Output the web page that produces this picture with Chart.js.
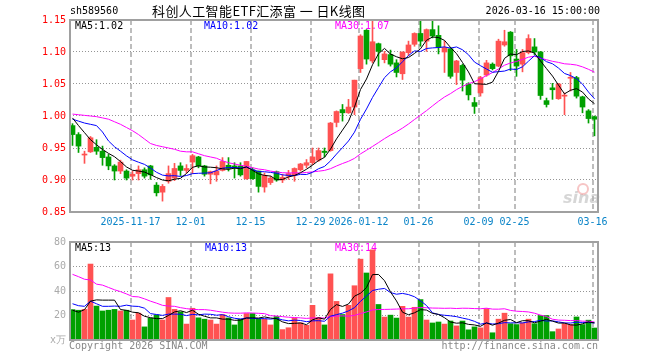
<!DOCTYPE html>
<html>
<head>
<meta charset="utf-8">
<script src="https://cdn.jsdelivr.net/npm/chart.js@4.4.1/dist/chart.umd.min.js"></script>
<style>
html, body { margin: 0; padding: 0; background: #fff; }
#wrap { position: relative; width: 660px; height: 360px; overflow: hidden; font-family: 'DejaVu Sans Mono', monospace; font-size: 10px; }
#wrap .t { position: absolute; white-space: nowrap; line-height: 12px; }
canvas { position: absolute; left: 0; }
</style>
</head>
<body>
<div id="wrap">
  <canvas id="price" width="660" height="232" style="top:0"></canvas>
  <canvas id="vol" width="660" height="128" style="top:232px"></canvas>
  <div class="t" style="left:70px;top:5px;">sh589560</div>
  <div class="t" style="left:152px;top:3px;font-family:'Noto Sans CJK SC';font-size:13px;line-height:16px;letter-spacing:0.4px;">科创人工智能ETF汇添富 一 日K线图</div>
  <div class="t" style="right:60px;top:5px;">2026-03-16 15:00:00</div>
  <div class="t" style="left:69px;top:340px;color:#888;">Copyright 2026 SINA.COM</div>
  <div class="t" style="right:62px;top:340px;color:#888;">http://finance.sina.com.cn</div>
</div>
<script>
// trading days shown
const dates = [
  '2025-11-03','2025-11-04','2025-11-05','2025-11-06','2025-11-07',
  '2025-11-10','2025-11-11','2025-11-12','2025-11-13','2025-11-14',
  '2025-11-17','2025-11-18','2025-11-19','2025-11-20','2025-11-21',
  '2025-11-24','2025-11-25','2025-11-26','2025-11-27','2025-11-28',
  '2025-12-01','2025-12-02','2025-12-03','2025-12-04','2025-12-05',
  '2025-12-08','2025-12-09','2025-12-10','2025-12-11','2025-12-12',
  '2025-12-15','2025-12-16','2025-12-17','2025-12-18','2025-12-19',
  '2025-12-22','2025-12-23','2025-12-24','2025-12-25','2025-12-26',
  '2025-12-29','2025-12-30','2025-12-31',
  '2026-01-05','2026-01-06','2026-01-07','2026-01-08','2026-01-09',
  '2026-01-12','2026-01-13','2026-01-14','2026-01-15','2026-01-16',
  '2026-01-19','2026-01-20','2026-01-21','2026-01-22','2026-01-23',
  '2026-01-26','2026-01-27','2026-01-28','2026-01-29','2026-01-30',
  '2026-02-02','2026-02-03','2026-02-04','2026-02-05','2026-02-06',
  '2026-02-09','2026-02-10','2026-02-11','2026-02-12','2026-02-13',
  '2026-02-24','2026-02-25','2026-02-26','2026-02-27',
  '2026-03-02','2026-03-03','2026-03-04','2026-03-05','2026-03-06',
  '2026-03-09','2026-03-10','2026-03-11','2026-03-12','2026-03-13',
  '2026-03-16'
];
const tickDates = ['2025-11-17','2025-12-01','2025-12-15','2025-12-29','2026-01-12','2026-01-26','2026-02-09','2026-02-25','2026-03-16'];
const tickText = ['2025-11-17','12-01','12-15','12-29','2026-01-12','01-26','02-09','02-25','03-16'];

const openP = [
  0.985,0.971,0.939,0.944,0.951,0.945,0.936,0.922,0.914,0.914,
  0.906,0.910,0.916,0.922,0.892,0.881,0.898,0.903,0.922,0.915,
  0.928,0.936,0.922,0.909,0.908,0.915,0.923,0.922,0.922,0.902,
  0.916,0.914,0.889,0.896,0.913,0.900,0.906,0.907,0.916,0.923,
  0.927,0.931,0.945,0.946,0.990,1.010,1.005,1.014,1.074,1.134,
  1.086,1.113,1.088,1.096,1.083,1.066,1.099,1.112,1.129,1.117,
  1.135,1.126,1.100,1.105,1.068,1.079,1.050,1.021,1.036,1.064,
  1.081,1.078,1.111,1.131,1.089,1.081,1.099,1.108,1.100,1.024,
  1.044,1.027,1.031,1.059,1.060,1.030,1.008,0.999
];
const highP = [
  0.988,0.974,0.945,0.968,0.963,0.953,0.940,0.924,0.931,0.916,
  0.914,0.922,0.919,0.923,0.896,0.893,0.922,0.926,0.927,0.924,
  0.940,0.937,0.923,0.914,0.922,0.935,0.935,0.927,0.927,0.929,
  0.919,0.914,0.911,0.906,0.914,0.909,0.915,0.919,0.926,0.932,
  0.950,0.950,0.950,0.990,1.008,1.018,1.026,1.056,1.127,1.135,
  1.150,1.114,1.101,1.103,1.088,1.100,1.117,1.130,1.150,1.136,
  1.150,1.141,1.117,1.107,1.087,1.081,1.052,1.029,1.062,1.087,
  1.083,1.120,1.134,1.132,1.104,1.104,1.127,1.121,1.101,1.028,
  1.051,1.051,1.036,1.068,1.062,1.031,1.010,1.000
];
const lowP = [
  0.954,0.943,0.926,0.943,0.940,0.923,0.916,0.900,0.910,0.900,
  0.900,0.900,0.903,0.901,0.875,0.867,0.895,0.899,0.907,0.911,
  0.910,0.919,0.906,0.894,0.898,0.914,0.914,0.903,0.906,0.901,
  0.901,0.881,0.881,0.893,0.898,0.896,0.901,0.898,0.914,0.919,
  0.924,0.929,0.936,0.945,0.983,0.992,1.004,1.002,1.068,1.081,
  1.083,1.078,1.083,1.078,1.061,1.057,1.094,1.109,1.109,1.101,
  1.122,1.097,1.068,1.059,1.049,1.039,1.025,1.004,1.031,1.062,
  1.072,1.077,1.109,1.071,1.062,1.069,1.097,1.096,1.026,1.014,
  1.026,1.026,1.002,1.039,1.028,1.005,0.989,0.969
];
const closeP = [
  0.971,0.953,0.940,0.966,0.945,0.935,0.922,0.914,0.928,0.903,
  0.909,0.916,0.906,0.908,0.880,0.890,0.910,0.918,0.915,0.918,
  0.938,0.922,0.909,0.913,0.914,0.929,0.918,0.919,0.908,0.929,
  0.902,0.890,0.907,0.903,0.900,0.904,0.910,0.918,0.925,0.927,
  0.936,0.946,0.943,0.989,1.007,1.005,1.014,1.056,1.125,1.089,
  1.116,1.101,1.097,1.081,1.068,1.100,1.111,1.129,1.117,1.135,
  1.125,1.107,1.107,1.062,1.086,1.056,1.033,1.015,1.060,1.083,
  1.074,1.117,1.116,1.094,1.078,1.099,1.121,1.100,1.032,1.018,
  1.041,1.050,1.032,1.060,1.031,1.014,0.996,0.995
];
// volume, x 10k
const volume = [
  24.8,24.3,25,62,27.7,23.7,24.3,25,23.7,24.3,
  16.3,21.9,10.7,17.9,20.5,16.3,34.7,25,23,13,
  25.9,18.1,17,16.3,13,20.8,18,12.3,17,21.6,
  21.6,17,17,12.3,19.2,8.5,10,18,14,12,
  28.3,18.4,12.3,54,31.5,20.8,28.3,44.3,66,54.7,
  73.6,29,18.7,20.3,17.9,27.5,18.7,26.7,33,16.3,
  13.9,14.7,13,15.5,11.5,15.5,8.3,10.7,9.9,25.6,
  5.9,17,21.9,13.3,12.6,14,17,13.3,20,20,
  6.8,9,13.3,12.6,18.8,12.6,16.2,9.8
];

// MA values at the first sessions (their windows start before the first candle)
const ma5Head = [0.997,0.985,0.974,0.963];
const ma10Head = [0.995,0.992,0.989,0.987,0.985,0.975,0.961,0.952,0.945];
const ma30Head = [1.003,1.002,1.001,1.000,0.999,0.997,0.995,0.991,0.987,0.982,
                  0.977,0.971,0.964,0.957,0.954,0.952,0.950,0.948,0.945,0.944,
                  0.944,0.941,0.938,0.936,0.934,0.930,0.927,0.925,0.923];
const vma5Head = [24.3,22.7,24.8,31.7];
const vma10Head = [29.6,28,27.5,31.7,29.6,27.5,27.5,27.7,27.5];
const vma30Head = [53.6,51.7,49.6,49,45.6,44.8,42.9,41,39.5,37.6,
                   35.5,35.2,33.6,31.7,30.1,28.3,27.7,27.5,26.4,25.6,
                   25,24.8,24.8,24.3,23.5,22.7,22.1,21.9,21.9];

const priceTicks = [0.85, 0.90, 0.95, 1.00, 1.05, 1.10, 1.15];
const volTicks = [0, 20, 40, 60, 80];

const UP = '#ff5252', DOWN = '#00a000';
const MONO = '"DejaVu Sans Mono", monospace';

function movingAvg(values, n, head) {
  return values.map((_, i) => {
    if (i < n - 1) return head[i];
    let s = 0;
    for (let k = i - n + 1; k <= i; k++) s += values[k];
    return s / n;
  });
}

const tickIdx = tickDates.map(d => dates.indexOf(d));
const colors = closeP.map((c, i) => c >= openP[i] ? UP : DOWN);
const xy = arr => arr.map((v, i) => ({ x: i, y: v }));

// frame, watermark and MA captions
const panelPlugin = {
  id: 'panel',
  beforeDatasetsDraw(chart, args, opts) {
    const { ctx, chartArea: a } = chart;
    ctx.save();
    if (chart.canvas.id === 'price') {
      ctx.font = 'italic bold 16px "DejaVu Sans"';
      ctx.fillStyle = 'rgba(180,180,180,0.55)';
      ctx.fillText('sina', 563, 203);
      ctx.strokeStyle = 'rgba(240,140,140,0.5)';
      ctx.lineWidth = 2;
      ctx.beginPath(); ctx.arc(583, 189, 5, 0, Math.PI * 2); ctx.stroke();
    }
    ctx.font = '10px ' + MONO;
    ctx.textBaseline = 'middle';
    opts.captions.forEach(c => {
      ctx.fillStyle = c.color;
      ctx.fillText(c.text, c.x, a.top + 6);
    });
    ctx.restore();
  },
  afterDatasetsDraw(chart) {
    const { ctx, chartArea: a } = chart;
    const L = Math.round(a.left), R = Math.round(a.right), T = Math.round(a.top), B = Math.round(a.bottom);
    ctx.save();
    ctx.fillStyle = '#a0a0a0';
    ctx.fillRect(L - 1, T - 1, R - L + 2, 2);
    ctx.fillRect(L - 1, B - 1, R - L + 2, 2);
    ctx.fillRect(L - 1, T - 1, 2, B - T + 2);
    ctx.fillRect(R - 1, T - 1, 2, B - T + 2);
    ctx.restore();
  }
};

function maLine(data, color) {
  return { type: 'line', data: xy(data), borderColor: color, borderWidth: 1,
           pointRadius: 0, tension: 0, fill: false };
}

const xMin = -2.5 / 6, xMax = dates.length - 1 + 3.5 / 6;

// date grid: dashed verticals just left of the session's candle
function xScale(showLabels) {
  return {
    type: 'linear', min: xMin, max: xMax, offset: false, display: true,
    grid: { display: true, drawTicks: false, offset: false, color: '#bdbdbd', lineWidth: 2 },
    border: { display: false, dash: [5, 3] },
    afterBuildTicks: s => { s.ticks = tickIdx.map(i => ({ value: i - 1 / 3 })); },
    afterFit: s => { s.height = showLabels ? 20 : 0; },
    ticks: { display: showLabels, autoSkip: false, maxRotation: 0, padding: 4, color: '#0a84c8',
             font: { family: MONO, size: 10 }, callback: (v, k) => tickText[k] }
  };
}

// value grid: dotted horizontals, none on the frame edges
function yScale(min, max, values, color, fmt) {
  return {
    min: min, max: max,
    grid: { display: true, drawTicks: false, lineWidth: 1,
            color: c => (c.tick && (c.tick.value === min || c.tick.value === max)) ? 'rgba(0,0,0,0)' : '#959595' },
    border: { display: false, dash: [1, 2] },
    afterBuildTicks: s => { s.ticks = values.map(v => ({ value: v })); },
    afterFit: s => { s.width = 70; },
    ticks: { padding: 4, color: color, font: { family: MONO, size: 10 }, callback: fmt }
  };
}

// price panel
new Chart(document.getElementById('price'), {
  type: 'bar',
  data: {
    datasets: [
      maLine(movingAvg(closeP, 5, ma5Head), '#000000'),
      maLine(movingAvg(closeP, 10, ma10Head), '#0000ff'),
      maLine(movingAvg(closeP, 30, ma30Head), '#ff00ff'),
      { data: closeP.map((c, i) => ({ x: i, y: [openP[i], c] })), backgroundColor: colors,
        barThickness: 5, minBarLength: 1, grouped: false, borderWidth: 0 },
      { data: closeP.map((c, i) => ({ x: i, y: [lowP[i], highP[i]] })), backgroundColor: colors,
        barThickness: 1, grouped: false, borderWidth: 0 }
    ]
  },
  options: {
    responsive: false, animation: false, events: [],
    layout: { padding: { top: 20, right: 62, left: 0, bottom: 0 } },
    scales: {
      x: xScale(true),
      y: yScale(0.85, 1.15, priceTicks, '#ff0000', v => v.toFixed(2))
    },
    plugins: {
      legend: { display: false }, tooltip: { enabled: false },
      panel: {
        captions: [
          { text: 'MA5:1.02', x: 75, color: '#000' },
          { text: 'MA10:1.02', x: 204, color: '#0000ff' },
          { text: 'MA30:1.07', x: 335, color: '#ff00ff' }
        ]
      }
    }
  },
  plugins: [panelPlugin]
});

// volume panel
new Chart(document.getElementById('vol'), {
  type: 'bar',
  data: {
    datasets: [
      maLine(movingAvg(volume, 5, vma5Head), '#000000'),
      maLine(movingAvg(volume, 10, vma10Head), '#0000ff'),
      maLine(movingAvg(volume, 30, vma30Head), '#ff00ff'),
      { data: xy(volume), backgroundColor: colors, barThickness: 5, grouped: false, borderWidth: 0 }
    ]
  },
  options: {
    responsive: false, animation: false, events: [],
    layout: { padding: { top: 8, right: 62, left: 0, bottom: 20 } },
    scales: {
      x: xScale(false),
      y: yScale(0, 80, volTicks, '#aaaaaa', v => v === 0 ? 'x万' : String(v))
    },
    plugins: {
      legend: { display: false }, tooltip: { enabled: false },
      panel: {
        captions: [
          { text: 'MA5:13', x: 75, color: '#000' },
          { text: 'MA10:13', x: 205, color: '#0000ff' },
          { text: 'MA30:14', x: 335, color: '#ff00ff' }
        ]
      }
    }
  },
  plugins: [panelPlugin]
});
</script>
</body>
</html>
